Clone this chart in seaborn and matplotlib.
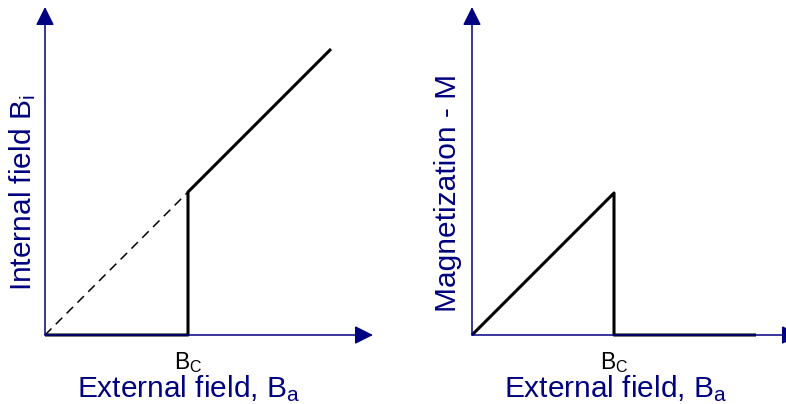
import matplotlib
matplotlib.use("Agg")
import matplotlib.pyplot as plt
import seaborn as sns
import pandas as pd

# Datos (en unidades de Bc = 1)
ba_interno = [0, 1, 1, 2]
bi_interno = [0, 0, 1, 2]
ba_meissner = [0, 1]
bi_meissner = [0, 1]
ba_magnet = [0, 1, 1, 2]
m_magnet = [0, 1, 0, 0]
tick_bc = [1]
tick_labels = ["$\\mathregular{B_C}$"]

NAVY = "#000080"

sns.set_style("white")
plt.rcParams["font.family"] = ["Liberation Sans", "DejaVu Sans"]
plt.rcParams["mathtext.fontset"] = "custom"
plt.rcParams["mathtext.rm"] = "Liberation Sans"

W, H = 786, 404
fig = plt.figure(figsize=(W / 100, H / 100), dpi=100)

def ejes(x0, lim_x, lim_y):
    ax = fig.add_axes([x0 / W, 69 / H, 328 / W, 328 / H])
    ax.set_xlim(0, lim_x)
    ax.set_ylim(0, lim_y)
    for s in ax.spines.values():
        s.set_visible(False)
    ax.set_yticks([])
    ax.set_xticks(tick_bc)
    ax.set_xticklabels(tick_labels, fontsize=16.5, color="black")
    ax.tick_params(axis="x", length=0, pad=11)
    ax.set_xlabel("")
    ax.set_ylabel("")
    flecha = dict(arrowstyle="-|>", mutation_scale=28, color=NAVY, lw=1.1,
                  shrinkA=0, shrinkB=0)
    ax.annotate("", xy=(1, 0), xytext=(0, 0), xycoords="axes fraction",
                arrowprops=flecha, annotation_clip=False)
    ax.annotate("", xy=(0, 1), xytext=(0, 0), xycoords="axes fraction",
                arrowprops=flecha, annotation_clip=False)
    return ax

# Panel izquierdo: campo interno
ax1 = ejes(45, 328 / 143, 328 / 143)
sns.lineplot(x=ba_meissner, y=bi_meissner, ax=ax1, color="black", lw=1.1,
             linestyle=(0, (6, 4)), sort=False, estimator=None)
sns.lineplot(x=ba_interno, y=bi_interno, ax=ax1, color="black", lw=2.2,
             sort=False, estimator=None)
ax1.text(-0.067, 0.434, "Internal field $\\mathregular{B_i}$", transform=ax1.transAxes,
         rotation=90, ha="center", va="center", fontsize=21.5, color=NAVY)
ax1.text(0.437, -0.189, "External field, $\\mathregular{B_a}$", transform=ax1.transAxes,
         ha="center", va="baseline", fontsize=21.5, color=NAVY)

# Panel derecho: magnetizacion
ax2 = ejes(472, 328 / 142, 328 / 142)
sns.lineplot(x=ba_magnet, y=m_magnet, ax=ax2, color="black", lw=2.2,
             sort=False, estimator=None)
ax2.text(-0.073, 0.434, "Magnetization - M", transform=ax2.transAxes,
         rotation=90, ha="center", va="center", fontsize=21.5, color=NAVY)
ax2.text(0.437, -0.189, "External field, $\\mathregular{B_a}$", transform=ax2.transAxes,
         ha="center", va="baseline", fontsize=21.5, color=NAVY)

for ax in (ax1, ax2):
    for ln in ax.lines:
        ln.set_clip_on(False)
        ln.set_solid_capstyle("butt")

fig.savefig("out.png", dpi=100)
